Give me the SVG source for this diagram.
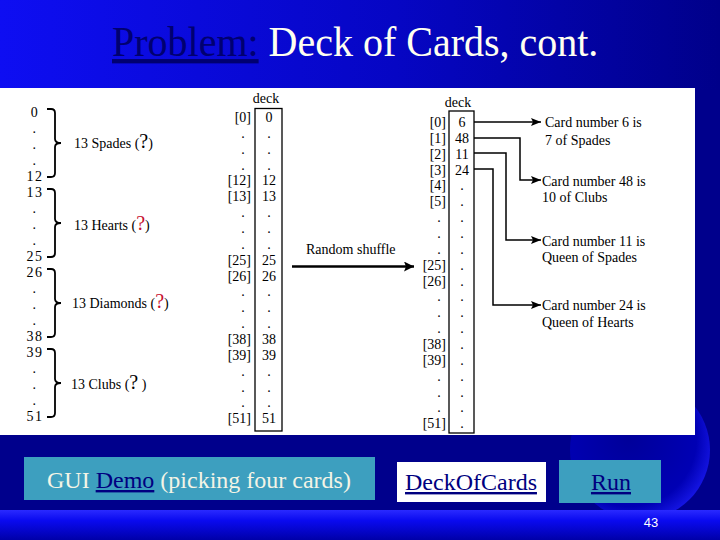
<svg xmlns="http://www.w3.org/2000/svg" width="720" height="540" viewBox="0 0 720 540">
<defs>
<linearGradient id="gTop" x1="0" y1="0" x2="1" y2="0">
<stop offset="0" stop-color="#0e0ef2"/>
<stop offset="0.55" stop-color="#0606c4"/>
<stop offset="1" stop-color="#00008a"/>
</linearGradient>
<linearGradient id="gBand" x1="0" y1="0" x2="0" y2="1">
<stop offset="0" stop-color="#2a2aff"/>
<stop offset="0.35" stop-color="#0a0af0"/>
<stop offset="1" stop-color="#0000a8"/>
</linearGradient>
<radialGradient id="gGlobe" cx="0.42" cy="0.42" r="0.62">
<stop offset="0" stop-color="#00009a"/>
<stop offset="0.78" stop-color="#0000b4"/>
<stop offset="1" stop-color="#1616e6"/>
</radialGradient>
<marker id="ah" markerUnits="userSpaceOnUse" markerWidth="11" markerHeight="8" refX="10" refY="4" orient="auto">
<path d="M0,0 L10,4 L0,8 L2,4 z" fill="#000"/>
</marker>
<marker id="ahBig" markerUnits="userSpaceOnUse" markerWidth="11" markerHeight="10" refX="10" refY="5" orient="auto">
<path d="M0,0 L10,5 L0,10 L2,5 z" fill="#000"/>
</marker>
<style>
.t{font-family:"Liberation Serif","Times New Roman",serif;font-size:14px;fill:#000}
.n{letter-spacing:1.5px}
.c{text-anchor:middle}
.e{text-anchor:end}
.q{font-size:20px}
.red{fill:#c8102e}
.brace{fill:none;stroke:#000;stroke-width:1.8}
.box{fill:none;stroke:#000;stroke-width:1.3}
.wire{fill:none;stroke:#000;stroke-width:1.5}
.btn{font-family:"Liberation Serif","Times New Roman",serif;font-size:24px}
.lnk{fill:#000080;text-decoration:underline}
</style>
</defs>

<!-- background -->
<rect x="0" y="0" width="720" height="540" fill="#00008c"/>
<rect x="0" y="0" width="720" height="90" fill="url(#gTop)"/>
<circle cx="640" cy="450" r="70" fill="url(#gGlobe)"/>
<rect x="0" y="510" width="720" height="30" fill="url(#gBand)"/>
<rect x="0" y="88" width="695" height="347" fill="#ffffff"/>

<!-- title -->
<g id="title" transform="translate(0,56) scale(1,1.07) translate(0,-56)">
<text x="112" y="56" font-family="Liberation Serif, Times New Roman, serif" font-size="40"><tspan fill="#000070" text-decoration="underline">Problem:</tspan><tspan fill="#fffff0"> Deck of Cards, cont.</tspan></text>
</g>

<!-- left column: card numbers with braces -->
<g id="suits">
<g class="t c n">
<text x="35" y="117">0</text><text x="35" y="133">.</text><text x="35" y="149">.</text><text x="35" y="165">.</text>
<text x="35" y="181">12</text><text x="35" y="197">13</text><text x="35" y="213">.</text><text x="35" y="229">.</text><text x="35" y="245">.</text>
<text x="35" y="261">25</text><text x="35" y="277">26</text><text x="35" y="293">.</text><text x="35" y="309">.</text><text x="35" y="325">.</text>
<text x="35" y="341">38</text><text x="35" y="357">39</text><text x="35" y="373">.</text><text x="35" y="389">.</text><text x="35" y="405">.</text>
<text x="35" y="421">51</text>
</g>
<path class="brace" d="M47,109 H51 Q55,109 55,113 V139 Q55,143 61,143 Q55,143 55,147 V173 Q55,177 51,177 H47"/>
<path class="brace" d="M47,189 H51 Q55,189 55,193 V219 Q55,223 61,223 Q55,223 55,227 V253 Q55,257 51,257 H47"/>
<path class="brace" d="M47,269 H51 Q55,269 55,273 V299 Q55,303 61,303 Q55,303 55,307 V333 Q55,337 51,337 H47"/>
<path class="brace" d="M47,349 H51 Q55,349 55,353 V379 Q55,383 61,383 Q55,383 55,387 V413 Q55,417 51,417 H47"/>
<text class="t" x="74" y="148">13 Spades (<tspan class="q">?</tspan>)</text>
<text class="t" x="74" y="230">13 Hearts (<tspan class="q red">?</tspan>)</text>
<text class="t" x="72" y="308">13 Diamonds (<tspan class="q red">?</tspan>)</text>
<text class="t" x="71" y="389">13 Clubs (<tspan class="q">?</tspan> )</text>
</g>

<!-- original deck -->
<g id="deck-before">
<text class="t c" x="266" y="103">deck</text>
<rect class="box" x="255" y="108.5" width="27" height="322.5"/>
<g class="t e">
<text x="251" y="122">[0]</text><text x="251" y="185.4">[12]</text><text x="251" y="201.3">[13]</text>
<text x="251" y="264.7">[25]</text><text x="251" y="280.5">[26]</text><text x="251" y="343.9">[38]</text>
<text x="251" y="359.8">[39]</text><text x="251" y="423.2">[51]</text>
</g>
<g class="t c">
<text x="243" y="137.9">.</text><text x="243" y="153.7">.</text><text x="243" y="169.6">.</text>
<text x="243" y="217.1">.</text><text x="243" y="233">.</text><text x="243" y="248.8">.</text>
<text x="243" y="296.4">.</text><text x="243" y="312.2">.</text><text x="243" y="328.1">.</text>
<text x="243" y="375.6">.</text><text x="243" y="391.5">.</text><text x="243" y="407.3">.</text>
<text x="269" y="122">0</text><text x="269" y="137.9">.</text><text x="269" y="153.7">.</text><text x="269" y="169.6">.</text>
<text x="269" y="185.4">12</text><text x="269" y="201.3">13</text>
<text x="269" y="217.1">.</text><text x="269" y="233">.</text><text x="269" y="248.8">.</text>
<text x="269" y="264.7">25</text><text x="269" y="280.5">26</text>
<text x="269" y="296.4">.</text><text x="269" y="312.2">.</text><text x="269" y="328.1">.</text>
<text x="269" y="343.9">38</text><text x="269" y="359.8">39</text>
<text x="269" y="375.6">.</text><text x="269" y="391.5">.</text><text x="269" y="407.3">.</text>
<text x="269" y="423.2">51</text>
</g>
</g>

<!-- shuffle label -->
<g id="shuffle">
<text class="t" x="306" y="254" font-size="14.5">Random shuffle</text>
</g>

<!-- shuffled deck -->
<g id="deck-after">
<text class="t c" x="458" y="107">deck</text>
<rect class="box" x="449" y="111" width="25" height="322"/>
<g class="t e">
<text x="446" y="127">[0]</text><text x="446" y="142.9">[1]</text><text x="446" y="158.7">[2]</text>
<text x="446" y="174.6">[3]</text><text x="446" y="190.4">[4]</text><text x="446" y="206.3">[5]</text>
<text x="446" y="269.7">[25]</text><text x="446" y="285.5">[26]</text>
<text x="446" y="348.9">[38]</text><text x="446" y="364.8">[39]</text><text x="446" y="428.2">[51]</text>
</g>
<g class="t c">
<text x="439" y="222.1">.</text><text x="439" y="238">.</text><text x="439" y="253.8">.</text>
<text x="439" y="301.4">.</text><text x="439" y="317.2">.</text><text x="439" y="333.1">.</text>
<text x="439" y="380.6">.</text><text x="439" y="396.5">.</text><text x="439" y="412.3">.</text>
<text x="462" y="127">6</text><text x="462" y="142.9">48</text><text x="462" y="158.7">11</text><text x="462" y="174.6">24</text>
<text x="462" y="190.4">.</text><text x="462" y="206.3">.</text><text x="462" y="222.1">.</text><text x="462" y="238">.</text>
<text x="462" y="253.8">.</text><text x="462" y="269.7">.</text><text x="462" y="285.5">.</text><text x="462" y="301.4">.</text>
<text x="462" y="317.2">.</text><text x="462" y="333.1">.</text><text x="462" y="348.9">.</text><text x="462" y="364.8">.</text>
<text x="462" y="380.6">.</text><text x="462" y="396.5">.</text><text x="462" y="412.3">.</text><text x="462" y="428.2">.</text>
</g>
</g>

<!-- card descriptions -->
<g id="card-6"><text class="t" x="545" y="127">Card number 6 is</text><text class="t" x="545" y="145">7 of Spades</text></g>
<g id="card-48"><text class="t" x="542" y="186">Card number 48 is</text><text class="t" x="542" y="202">10 of Clubs</text></g>
<g id="card-11"><text class="t" x="542" y="246">Card number 11 is</text><text class="t" x="542" y="262">Queen of Spades</text></g>
<g id="card-24"><text class="t" x="542" y="310">Card number 24 is</text><text class="t" x="542" y="327">Queen of Hearts</text></g>

<!-- connectors -->
<g id="connectors">
<line x1="292" y1="266.5" x2="414" y2="266.5" stroke="#000" stroke-width="2.7" marker-end="url(#ahBig)"/>
<polyline class="wire" points="474,122 541,122" marker-end="url(#ah)"/>
<polyline class="wire" points="474,138 520,138 520,180 541,180" marker-end="url(#ah)"/>
<polyline class="wire" points="474,153 506,153 506,240 541,240" marker-end="url(#ah)"/>
<polyline class="wire" points="474,169 493,169 493,305 541,305" marker-end="url(#ah)"/>
</g>

<!-- buttons -->
<g id="btn-demo">
<rect x="24" y="457" width="351" height="43" fill="#3d9fbf"/>
<text class="btn" x="47" y="488" fill="#f4f4e6">GUI <tspan class="lnk">Demo</tspan> (picking four cards)</text>
</g>
<g id="btn-deck">
<rect x="397" y="462" width="149" height="40" fill="#ffffff"/>
<text class="btn lnk" x="471" y="490" text-anchor="middle">DeckOfCards</text>
</g>
<g id="btn-run">
<rect x="559" y="460" width="102" height="43" fill="#3d9fbf"/>
<text class="btn lnk" x="611" y="490" text-anchor="middle">Run</text>
</g>
<g id="page">
<text x="651" y="527" text-anchor="middle" font-family="Liberation Sans, Arial, sans-serif" font-size="13" fill="#ffffff">43</text>
</g>
</svg>
